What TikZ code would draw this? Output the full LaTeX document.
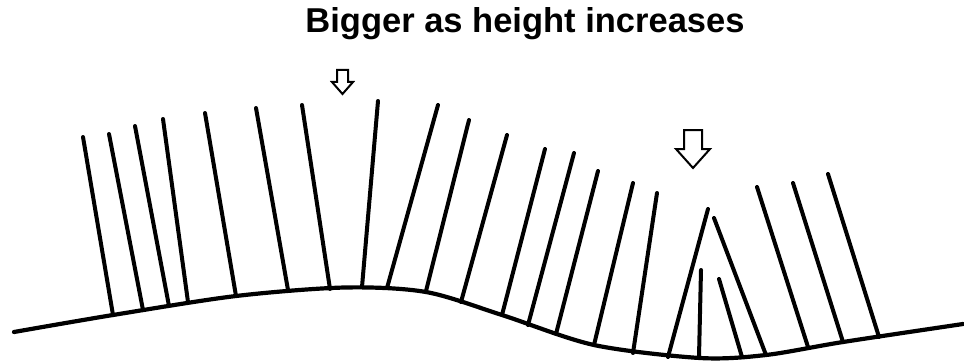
\documentclass[tikz,border=0pt]{standalone}
\usepackage{fontspec}
\setmainfont{Liberation Sans}
\usetikzlibrary{positioning}

\begin{document}
\begin{tikzpicture}[
      x=1pt, y=-1pt,
      stick/.style={line width=4pt, line cap=round},
      ground/.style={line width=4.2pt, line cap=round},
      hollow/.style={draw, line width=2pt, fill=white, line join=miter},
      title/.style={font=\bfseries\fontsize{34.5}{40}\selectfont, inner sep=0pt}
  ]
      \useasboundingbox (0,0) rectangle (964,361);

      % Titel
      \node[title, anchor=base] (title) at (525,33) {Bigger as height increases};

      % Boden
      \draw[ground] plot[smooth, tension=0.5] coordinates {
          (14,332) (113,315) (236,296) (345,287.5) (426,292) (502,315)
          (594,345) (700,358) (766,355) (843,342) (963,324)
      };

      % Halme auf dem Hügel
      \draw[stick] (83,137) -- (113,315);
      \draw[stick] (109,134) -- (143,310);
      \draw[stick] (135,126) -- (169,306);
      \draw[stick] (163,119) -- (188,302);
      \draw[stick] (205,113) -- (236,296);
      \draw[stick] (256,108) -- (288,290);
      \draw[stick] (302,105) -- (330,289);
      \draw[stick] (378,101) -- (362,287);
      \draw[stick] (438,105) -- (387,288);
      \draw[stick] (469,120) -- (426,291);
      \draw[stick] (507,135) -- (461,302);
      \draw[stick] (545,149) -- (502,315);
      \draw[stick] (574,153) -- (528,325);
      \draw[stick] (598,171) -- (556,334);
      \draw[stick] (633,183) -- (594,345);
      \draw[stick] (657,193) -- (633,353);

      % Halme in der Senke
      \draw[stick] (708,209) -- (668,357);
      \draw[stick] (701,270) -- (699,357);
      \draw[stick] (719,279) -- (742,357);
      \draw[stick] (714,218) -- (766,355);
      \draw[stick] (757,187) -- (808,347);
      \draw[stick] (793,183) -- (843,342);
      \draw[stick] (828,174) -- (879,337);

      % Pfeile
      \draw[hollow] (337,70) -- (348,70) -- (348,82) -- (353,82) -- (342.5,94)
          -- (332,82) -- (337,82) -- cycle;
      \draw[hollow] (684,130) -- (702,130) -- (702,149) -- (710,149) -- (693,168)
          -- (676,149) -- (684,149) -- cycle;
  \end{tikzpicture}
\end{document}
